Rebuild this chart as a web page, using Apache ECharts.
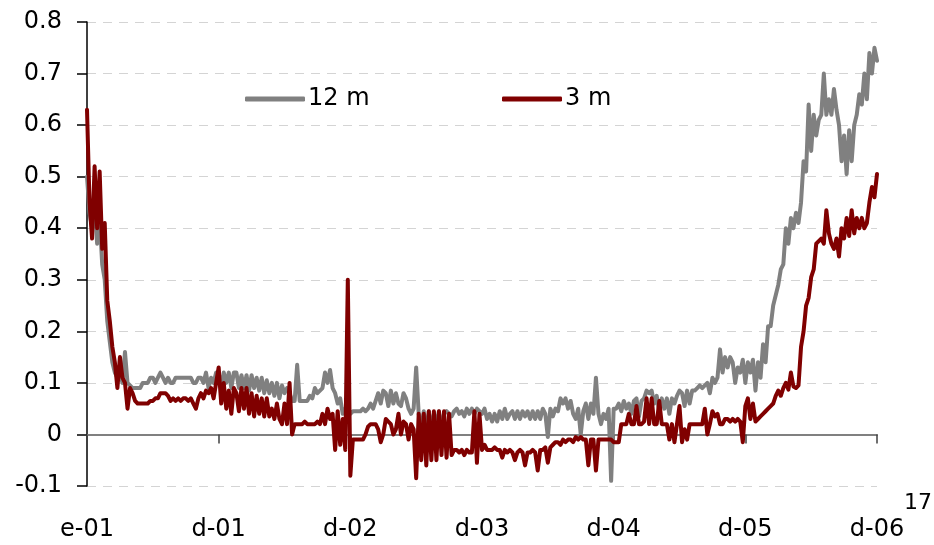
<!DOCTYPE html>
<html>
<head>
<meta charset="utf-8">
<script src="https://cdn.jsdelivr.net/npm/echarts@6/dist/echarts.min.js"></script>
<style>
html,body{margin:0;padding:0;background:#fff;}
#chart{width:934px;height:545px;}
</style>
</head>
<body>
<div id="chart"></div>
<script>
// Weekly readings, Jan 2001 - Dec 2006 (52 points per year label step)
const tickLabels = ['e-01', 'd-01', 'd-02', 'd-03', 'd-04', 'd-05', 'd-06'];
const pointsPerTick = 52;
const seriesNames = ['12 m', '3 m'];

const m12_y1 = [0.5,0.43,0.40,0.45,0.37,0.42,0.33,0.30,0.22,0.18,0.14,0.12,0.11,0.12,0.10,0.16,0.10,0.095,0.09,0.09,0.09,0.09,0.10,0.10,0.10,0.11,0.11,0.10,0.11,0.12,0.11,0.10,0.11,0.10,0.10,0.11,0.11,0.11,0.11,0.11,0.11,0.11,0.10,0.10,0.11,0.11,0.10,0.12,0.09,0.11,0.10,0.12];
const m12_y2 = [0.12,0.09,0.12,0.10,0.12,0.09,0.12,0.12,0.09,0.115,0.09,0.115,0.085,0.115,0.09,0.11,0.085,0.11,0.08,0.105,0.08,0.10,0.075,0.10,0.07,0.095,0.08,0.09,0.08,0.065,0.065,0.135,0.065,0.065,0.065,0.065,0.075,0.07,0.09,0.08,0.085,0.09,0.12,0.10,0.125,0.09,0.08,0.06,0.07,0.04,0.05,0.045];
const m12_y3 = [0.04,0.045,0.045,0.045,0.045,0.05,0.045,0.05,0.06,0.05,0.065,0.08,0.06,0.085,0.08,0.055,0.085,0.06,0.08,0.06,0.055,0.08,0.07,0.05,0.04,0.05,0.13,0.04,0.01,0.045,0.0,0.045,0.01,0.04,0.02,0.045,0.01,0.04,0.045,0.04,0.035,0.045,0.05,0.04,0.045,0.035,0.05,0.04,0.05,0.04,0.05,0.045];
const m12_y4 = [0.04,0.05,0.03,0.04,0.025,0.04,0.025,0.045,0.03,0.05,0.03,0.04,0.045,0.03,0.045,0.03,0.045,0.035,0.045,0.03,0.045,0.03,0.045,0.03,0.05,0.04,-0.005,0.05,0.035,0.05,0.045,0.07,0.06,0.07,0.05,0.065,0.04,0.03,0.05,0.0,0.045,0.06,0.03,0.06,0.04,0.11,0.04,0.02,0.04,0.03,0.05,-0.09];
const m12_y5 = [0.05,0.05,0.06,0.045,0.065,0.05,0.06,0.04,0.065,0.07,0.035,0.065,0.07,0.085,0.08,0.085,0.06,0.075,0.045,0.07,0.05,0.07,0.04,0.07,0.06,0.075,0.085,0.08,0.055,0.085,0.06,0.085,0.085,0.09,0.095,0.09,0.095,0.1,0.08,0.11,0.1,0.11,0.165,0.12,0.15,0.13,0.15,0.14,0.1,0.13,0.12,0.145];
const m12_y6 = [0.1,0.14,0.12,0.145,0.085,0.14,0.11,0.175,0.14,0.21,0.21,0.25,0.27,0.29,0.32,0.33,0.40,0.37,0.42,0.40,0.43,0.41,0.45,0.53,0.51,0.64,0.55,0.62,0.58,0.61,0.62,0.70,0.62,0.65,0.62,0.67,0.63,0.60,0.53,0.58,0.505,0.59,0.53,0.60,0.62,0.66,0.64,0.70,0.65,0.74,0.70,0.75,0.725];

const m3_y1 = [0.63,0.45,0.38,0.52,0.40,0.51,0.36,0.41,0.26,0.22,0.17,0.14,0.09,0.15,0.11,0.10,0.05,0.09,0.08,0.065,0.06,0.06,0.06,0.06,0.06,0.065,0.065,0.07,0.07,0.08,0.08,0.08,0.075,0.065,0.07,0.065,0.07,0.065,0.07,0.07,0.065,0.07,0.06,0.05,0.07,0.08,0.07,0.085,0.08,0.09,0.07,0.10];
const m3_y2 = [0.13,0.06,0.1,0.05,0.085,0.04,0.09,0.08,0.045,0.09,0.05,0.09,0.04,0.08,0.035,0.075,0.04,0.07,0.035,0.07,0.035,0.05,0.03,0.06,0.03,0.02,0.06,0.02,0.1,0.0,0.02,0.02,0.02,0.02,0.025,0.02,0.02,0.02,0.02,0.025,0.02,0.04,0.02,0.05,0.03,0.04,-0.03,0.045,-0.02,0.03,-0.03,0.30];
const m3_y3 = [-0.08,-0.01,-0.01,-0.01,-0.01,-0.01,0.0,0.015,0.02,0.02,0.02,0.01,-0.015,0.0,0.03,0.025,0.02,0.0,0.01,0.04,0.0,0.025,0.02,-0.01,0.02,0.01,-0.085,0.04,-0.05,0.04,-0.06,0.045,-0.05,0.045,-0.05,0.045,-0.04,0.045,-0.045,0.04,-0.04,-0.03,-0.03,-0.035,-0.03,-0.04,-0.03,-0.035,-0.035,0.045,-0.055,0.04];
const m3_y4 = [-0.03,-0.02,-0.03,-0.03,-0.03,-0.025,-0.03,-0.03,-0.045,-0.03,-0.035,-0.03,-0.035,-0.05,-0.035,-0.03,-0.035,-0.06,-0.035,-0.035,-0.03,-0.035,-0.07,-0.03,-0.03,-0.025,-0.055,-0.025,-0.02,-0.015,-0.015,-0.02,-0.01,-0.015,-0.01,-0.01,-0.015,-0.005,-0.01,-0.005,-0.01,-0.01,-0.06,-0.01,-0.01,-0.07,-0.01,-0.01,-0.01,-0.01,-0.01,-0.01];
const m3_y5 = [-0.015,-0.015,-0.015,0.02,0.02,0.02,0.04,0.02,0.02,0.055,0.02,0.02,0.025,0.07,0.02,0.07,0.02,0.02,0.065,0.02,0.02,0.02,-0.01,0.02,-0.015,0.02,0.055,-0.015,0.01,-0.01,0.02,0.02,0.02,0.02,0.02,0.02,0.05,0.0,0.02,0.045,0.035,0.04,0.02,0.02,0.03,0.03,0.025,0.03,0.025,0.03,0.025,-0.015];
const m3_y6 = [0.055,0.07,0.03,0.06,0.025,0.03,0.035,0.04,0.045,0.05,0.055,0.06,0.075,0.085,0.075,0.09,0.1,0.087,0.12,0.093,0.09,0.095,0.17,0.2,0.25,0.265,0.305,0.32,0.37,0.375,0.38,0.37,0.435,0.39,0.37,0.36,0.38,0.345,0.40,0.38,0.42,0.385,0.435,0.39,0.42,0.40,0.42,0.40,0.41,0.45,0.48,0.46,0.505];

const values12m = [].concat(m12_y1, m12_y2, m12_y3, m12_y4, m12_y5, m12_y6);
const values3m = [].concat(m3_y1, m3_y2, m3_y3, m3_y4, m3_y5, m3_y6);
const categories = values12m.map((_, i) => String(i));

const FONT = 'DejaVu Sans';
const chart = echarts.init(document.getElementById('chart'), null, {renderer: 'canvas'});

const xLabelFmt = (v) => {
  const i = Number(v);
  return (i % pointsPerTick === 0) ? (tickLabels[i / pointsPerTick] || '') : '';
};

const legendBase = {
  top: 82, itemWidth: 60, itemHeight: 5, icon: 'roundRect', itemGap: 6,
  textStyle: {fontFamily: FONT, fontSize: 24, color: '#000', padding: [0, 0, 0, -2]}
};

chart.setOption({
  animation: false,
  backgroundColor: '#ffffff',
  grid: {left: 87, right: 57, top: 22, bottom: 59, containLabel: false},
  legend: [
    Object.assign({data: [seriesNames[0]], left: 240}, legendBase),
    Object.assign({data: [seriesNames[1]], left: 497}, legendBase)
  ],
  xAxis: [
    {
      type: 'category', data: categories, boundaryGap: false,
      axisLine: {show: false, onZero: false},
      axisTick: {show: false},
      axisLabel: {interval: pointsPerTick - 1, formatter: xLabelFmt, margin: 32,
        fontFamily: FONT, fontSize: 24, color: '#000'},
      splitLine: {show: false}
    },
    {
      type: 'category', data: categories, boundaryGap: false, position: 'bottom',
      axisLine: {show: true, onZero: true, lineStyle: {color: '#808080', width: 2}},
      axisTick: {show: true, interval: pointsPerTick - 1, length: 9, lineStyle: {color: '#404040', width: 1.5}},
      axisLabel: {show: false},
      splitLine: {show: false}
    }
  ],
  yAxis: {
    type: 'value', min: -0.1, max: 0.8, interval: 0.1,
    axisLine: {show: true, lineStyle: {color: '#000', width: 1.5}},
    axisTick: {show: true, length: 10, lineStyle: {color: '#000', width: 1.5}},
    axisLabel: {margin: 25, fontFamily: FONT, fontSize: 24, color: '#000',
      formatter: v => String(Math.round(v * 10) / 10)},
    splitLine: {show: true, lineStyle: {color: '#d4d4d4', type: [9, 7], width: 1.2}}
  },
  series: [
    {
      name: seriesNames[0], type: 'line', data: values12m, xAxisIndex: 0,
      symbol: 'none', color: '#808080',
      lineStyle: {color: '#808080', width: 4, cap: 'round', join: 'round'}
    },
    {
      name: seriesNames[1], type: 'line', data: values3m, xAxisIndex: 0,
      symbol: 'none', color: '#800000',
      lineStyle: {color: '#800000', width: 4, cap: 'round', join: 'round'}
    }
  ],
  graphic: [
    {type: 'text', right: 2, top: 492, style: {text: '17', fontFamily: FONT, fontSize: 22, fill: '#000'}}
  ]
});
</script>
</body>
</html>
